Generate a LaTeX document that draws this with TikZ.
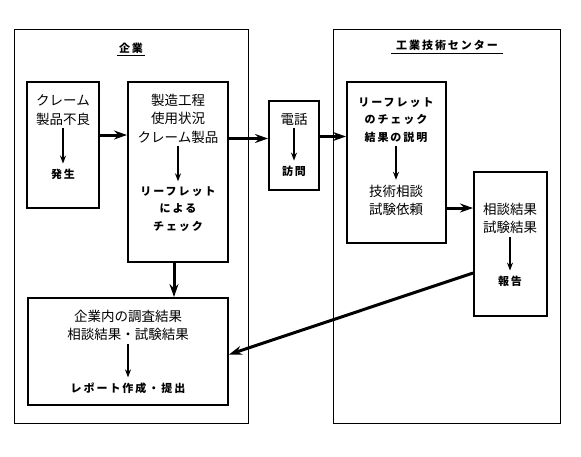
\documentclass[tikz,border=0pt]{standalone}
\usepackage{fontspec}
\setmainfont{Noto Sans CJK JP}
\newfontfamily\jpbold[LetterSpace=18]{Noto Sans CJK JP}
\usetikzlibrary{arrows.meta}

\begin{document}
\begin{tikzpicture}[x=1pt,y=-1pt,
    outer/.style={draw, line width=0.8pt, inner sep=0pt},
    inbox/.style={draw, line width=2pt, inner sep=0pt},
    txt/.style={align=center, inner sep=0pt, font=\fontsize{13.5}{18.5}\selectfont},
    btxt/.style={align=center, inner sep=0pt, font=\jpbold\bfseries\fontsize{11}{17.5}\selectfont},
    title/.style={inner sep=0pt, font=\jpbold\bfseries\fontsize{11}{13}\selectfont},
    flow/.style={line width=3pt, -{Stealth[length=13pt,width=9pt]}},
    down/.style={line width=1.3pt, -{Stealth[length=8pt,width=6pt]}, shorten <=3pt, shorten >=5pt}]
    \useasboundingbox (0,0) rectangle (581,456);
    % Company frame
    \node[outer, minimum width=234pt, minimum height=394pt] (company) at (131,226) {};
    \node[title] (companytitle) at (131,48) {企業};
    \draw[line width=0.8pt] (117,55) -- (145,55);
    % Center frame
    \node[outer, minimum width=227pt, minimum height=394pt] (center) at (446.5,226) {};
    \node[title] (centertitle) at (447,45) {工業技術センター};
    \draw[line width=0.8pt] (391,53) -- (503,53);
    % Claim box
    \node[inbox, minimum width=72pt, minimum height=126pt] (claim) at (63,145) {};
    \node[txt] (claimtop) at (63,110) {クレーム\\製品不良};
    \node[btxt] (claimbot) at (63,174) {発生};
    \draw[down] (claimtop) -- (claimbot);
    % Check box
    \node[inbox, minimum width=100pt, minimum height=180pt] (check) at (178,172) {};
    \node[txt] (checktop) at (178,118.5) {製造工程\\使用状況\\クレーム製品};
    \node[btxt] (checkbot) at (178,209) {リーフレット\\による\\チェック};
    \draw[down] (checktop) -- (checkbot);
    % Phone box
    \node[inbox, minimum width=50pt, minimum height=89pt] (phone) at (294,145.5) {};
    \node[txt] (phonetop) at (294,119) {電話};
    \node[btxt] (phonebot) at (294,171) {訪問};
    \draw[down] (phonetop) -- (phonebot);
    % Consult box
    \node[inbox, minimum width=99pt, minimum height=161pt] (consult) at (396.5,162.5) {};
    \node[btxt] (consulttop) at (396,120) {リーフレット\\のチェック\\結果の説明};
    \node[txt] (consultbot) at (396,200.5) {技術相談\\試験依頼};
    \draw[down] (consulttop) -- (consultbot);
    % Result box
    \node[inbox, minimum width=73pt, minimum height=144pt] (result) at (510.5,244) {};
    \node[txt] (resulttop) at (510,218.5) {相談結果\\試験結果};
    \node[btxt] (resultbot) at (510,281) {報告};
    \draw[down] (resulttop) -- (resultbot);
    % Report box
    \node[inbox, minimum width=200pt, minimum height=107pt] (report) at (128,351.5) {};
    \node[txt] (reporttop) at (128,325.5) {企業内の調査結果\\相談結果・試験結果};
    \node[btxt] (reportbot) at (128,388) {レポート作成・提出};
    \draw[down] (reporttop) -- (reportbot);
    % Arrows
    \draw[flow] ([yshift=10pt]claim.east) -- ([yshift=10pt]claim.east -| check.west);
    \draw[flow] ([yshift=7pt]phone.west -| check.east) -- ([yshift=7pt]phone.west);
    \draw[flow] ([yshift=9pt]phone.east) -- ([yshift=9pt]phone.east -| consult.west);
    \draw[flow] ([yshift=36pt]result.west -| consult.east) -- ([yshift=36pt]result.west);
    \draw[flow] ([xshift=-4pt]check.south) -- ([xshift=-4pt]check.south |- report.north);
    \draw[flow] ([yshift=-29pt]result.west) -- ([yshift=-3pt]report.east);
\end{tikzpicture}
\end{document}
